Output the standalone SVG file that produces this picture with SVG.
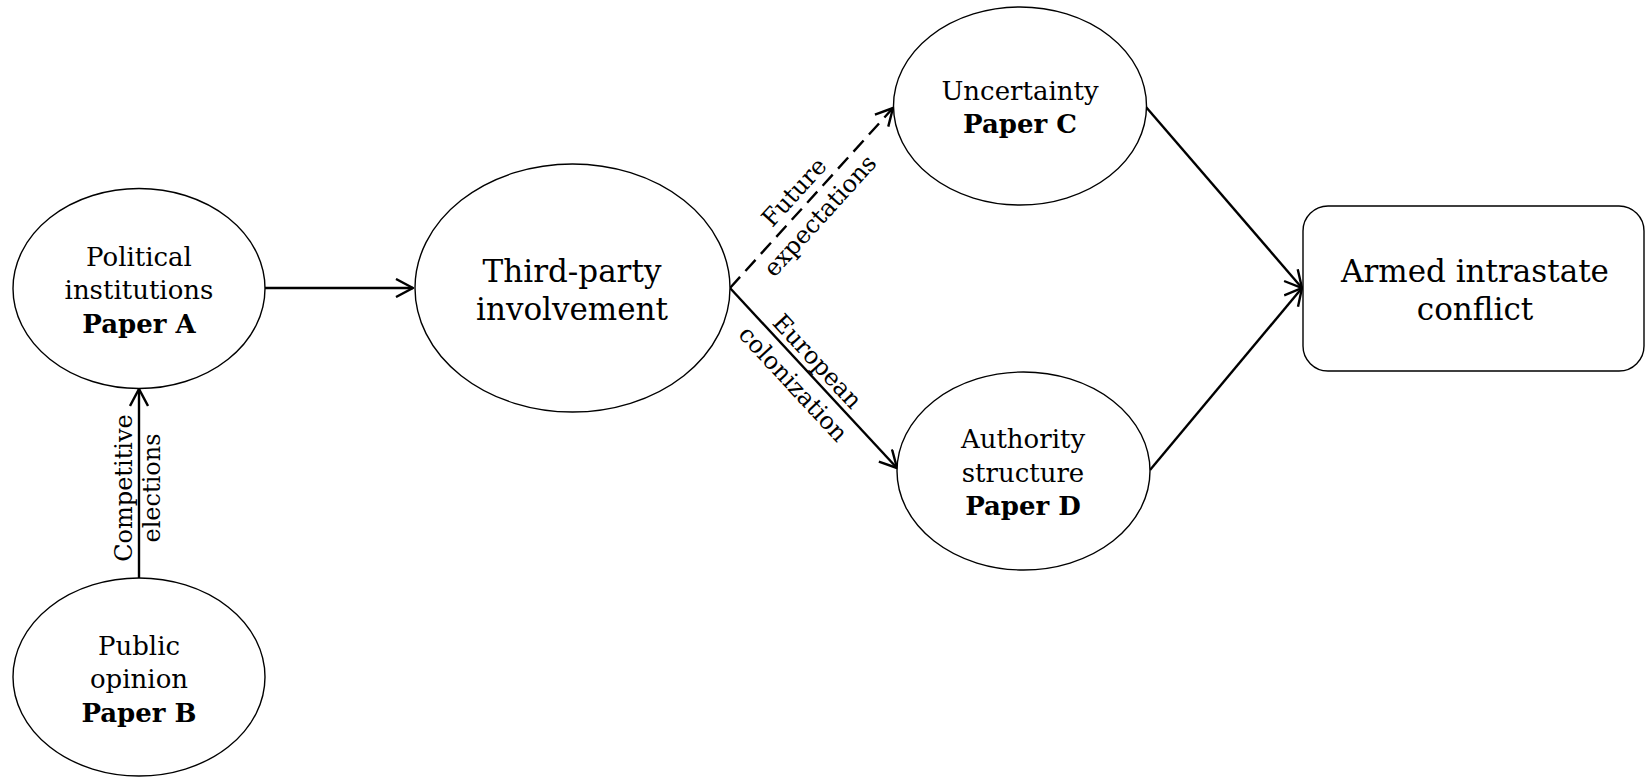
<svg xmlns="http://www.w3.org/2000/svg" width="1646" height="777" viewBox="0 0 1646 777">
<style>
.node{fill:#fff;stroke:#000;stroke-width:1.4}
.t{font-family:"DejaVu Serif","Liberation Serif",serif;font-size:26px;fill:#000;text-anchor:middle}
.b{font-weight:bold}
.big{font-size:31px}
.lbl{font-family:"DejaVu Serif","Liberation Serif",serif;font-size:24px;fill:#000;text-anchor:middle}
.e{fill:none;stroke:#000;stroke-width:2.4;marker-end:url(#arr)}
.d{stroke-dasharray:15 8}
</style>
<defs>
<marker id="arr" viewBox="0 0 20 20" refX="19" refY="10" markerWidth="20" markerHeight="20" markerUnits="userSpaceOnUse" orient="auto">
<path d="M2,1 L19,10 L2,19" fill="none" stroke="#000" stroke-width="2.4"/>
</marker>
</defs>
<g id="connectors">
<line class="e" x1="265" y1="288" x2="413" y2="288"/>
<line class="e" x1="139" y1="578" x2="139" y2="389"/>
<line class="e d" x1="730" y1="288" x2="893" y2="108"/>
<line class="e" x1="730" y1="288" x2="897" y2="468"/>
<line class="e" x1="1146" y1="107" x2="1302" y2="288"/>
<line class="e" x1="1150" y1="470" x2="1302" y2="288"/>
<g transform="translate(139,488) rotate(-90)">
<text class="lbl" x="0" y="-7">Competitive</text>
<text class="lbl" x="0" y="21">elections</text>
</g>
<g transform="translate(806,203) rotate(-47.8)">
<text class="lbl" x="0" y="-8">Future</text>
<text class="lbl" x="0" y="27">expectations</text>
</g>
<g transform="translate(807,371) rotate(47.2)">
<text class="lbl" x="0" y="-6">European</text>
<text class="lbl" x="0" y="27">colonization</text>
</g>
</g>
<g id="nodeA">
<ellipse class="node" cx="139" cy="288.5" rx="126" ry="100"/>
<text class="t" x="139" y="266">Political</text>
<text class="t" x="139" y="299">institutions</text>
<text class="t b" x="139" y="333">Paper A</text>
</g>
<g id="nodeB">
<ellipse class="node" cx="139" cy="677" rx="126" ry="99"/>
<text class="t" x="139" y="655">Public</text>
<text class="t" x="139" y="688">opinion</text>
<text class="t b" x="139" y="722">Paper B</text>
</g>
<g id="nodeTP">
<ellipse class="node" cx="572.5" cy="288" rx="157.5" ry="124"/>
<text class="t big" x="572" y="282">Third-party</text>
<text class="t big" x="572" y="320">involvement</text>
</g>
<g id="nodeC">
<ellipse class="node" cx="1020" cy="106" rx="126.5" ry="99"/>
<text class="t" x="1020" y="100">Uncertainty</text>
<text class="t b" x="1020" y="133">Paper C</text>
</g>
<g id="nodeD">
<ellipse class="node" cx="1023.5" cy="471" rx="126.5" ry="99"/>
<text class="t" x="1023" y="448">Authority</text>
<text class="t" x="1023" y="482">structure</text>
<text class="t b" x="1023" y="515">Paper D</text>
</g>
<g id="nodeArmed">
<rect class="node" x="1303" y="206" width="341" height="165" rx="25" ry="25"/>
<text class="t big" x="1475" y="282">Armed intrastate</text>
<text class="t big" x="1475" y="320">conflict</text>
</g>
</svg>
